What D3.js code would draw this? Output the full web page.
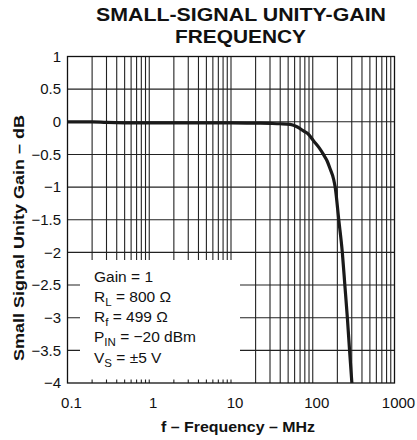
<!DOCTYPE html>
<html><head><meta charset="utf-8">
<script src="https://cdn.jsdelivr.net/npm/d3@7"></script>
<style>body{margin:0;background:#fff}svg{display:block}text{font-family:"Liberation Sans",Arial,sans-serif;fill:#111}</style>
</head><body><svg id="c" width="417" height="440"></svg>
<script>
const freqMHz = [0.1,0.2,0.3,0.5,1,3,10,20,30,40,53,65,77,90,102,120,135,150,163,180,188,208,230,247,265,282,301];
const gainDb  = [0,0,-0.01,-0.015,-0.015,-0.015,-0.015,-0.02,-0.025,-0.03,-0.04,-0.08,-0.14,-0.2,-0.29,-0.4,-0.5,-0.6,-0.72,-0.88,-1.0,-1.5,-2.0,-2.5,-3.0,-3.5,-4.0];
const yTicks = [1,0.5,0,-0.5,-1,-1.5,-2,-2.5,-3,-3.5,-4];
const yTickLabels = ["1","0.5","0","\u22120.5","\u22121","\u22121.5","\u22122","\u22122.5","\u22123","\u22123.5","\u22124"];
const xTicks = [0.1,1,10,100,1000];
const xTickLabels = ["0.1","1","10","100","1000"];
const legendLines = [["Gain = 1","",""],["R","L"," = 800 \u03A9"],["R","f"," = 499 \u03A9"],["P","IN"," = \u221220 dBm"],["V","S"," = \u00B15 V"]];

const svg = d3.select("#c");
const L=67.5,R=394.5,T=56.5,B=383;
const x = d3.scaleLog().domain([0.1,1000]).range([L,R]);
const y = d3.scaleLinear().domain([-4,1]).range([B,T]);

// grid
const minor=[];
for(let d=0.1; d<1000; d*=10){ for(let k=1;k<10;k++){ minor.push(+(d*k).toPrecision(3)); } }
svg.append("g").selectAll("line").data(minor.filter(v=>v>0.1)).join("line")
  .attr("x1",d=>x(d)).attr("x2",d=>x(d)).attr("y1",T).attr("y2",B)
  .attr("stroke","#222").attr("stroke-width",1.1);
svg.append("g").selectAll("line").data(yTicks.slice(1,-1)).join("line")
  .attr("x1",L).attr("x2",R).attr("y1",d=>y(d)).attr("y2",d=>y(d))
  .attr("stroke","#222").attr("stroke-width",1.1);

// legend box (white, no border)
svg.append("rect").attr("x",80).attr("y",260).attr("width",160).attr("height",119.5).attr("fill","#fff");

// frame
svg.append("rect").attr("x",L).attr("y",T).attr("width",R-L).attr("height",B-T)
  .attr("fill","none").attr("stroke","#111").attr("stroke-width",1.3);

// curve
const line = d3.line().x((d,i)=>x(freqMHz[i])).y((d,i)=>y(gainDb[i])).curve(d3.curveMonotoneX);
svg.append("path").attr("d",line(gainDb)).attr("fill","none").attr("stroke","#1a1a1a").attr("stroke-width",3.2).attr("stroke-linejoin","round");

// y tick labels
svg.append("g").selectAll("text").data(yTicks).join("text")
  .attr("x",61).attr("y",d=>y(d)+5.3).attr("text-anchor","end").attr("font-size",15)
  .text((d,i)=>yTickLabels[i]);
// x tick labels
svg.append("g").selectAll("text").data(xTicks).join("text")
  .attr("x",d=>x(d)+4).attr("y",407.5).attr("text-anchor","middle").attr("font-size",15)
  .text((d,i)=>xTickLabels[i]);

// title
svg.append("text").attr("x",241).attr("y",20.7).attr("text-anchor","middle").attr("font-size",18.5).attr("font-weight","bold")
  .attr("textLength",290).attr("lengthAdjust","spacingAndGlyphs").text("SMALL-SIGNAL UNITY-GAIN");
svg.append("text").attr("x",240.5).attr("y",43.3).attr("text-anchor","middle").attr("font-size",18.5).attr("font-weight","bold")
  .attr("textLength",131).attr("lengthAdjust","spacingAndGlyphs").text("FREQUENCY");

// axis labels
svg.append("text").attr("x",238).attr("y",431.5).attr("text-anchor","middle").attr("font-size",14).attr("font-weight","bold")
  .attr("textLength",154).attr("lengthAdjust","spacingAndGlyphs").text("f \u2013 Frequency \u2013 MHz");
svg.append("text").attr("transform","translate(23.5,238) rotate(-90)").attr("text-anchor","middle").attr("font-size",15.5).attr("font-weight","bold")
  .attr("textLength",246).attr("lengthAdjust","spacingAndGlyphs").text("Small Signal Unity Gain \u2013 dB");

// legend
const lg = svg.append("g");
legendLines.forEach((p,i)=>{
  const t = lg.append("text").attr("x",94).attr("y",281.7+i*20.2).attr("font-size",15.5);
  t.append("tspan").text(p[0]);
  if(p[1]){
    t.append("tspan").attr("font-size",11.5).attr("dy",4).text(p[1]);
    t.append("tspan").attr("dy",-4).text(p[2]);
  }
});
</script></body></html>
